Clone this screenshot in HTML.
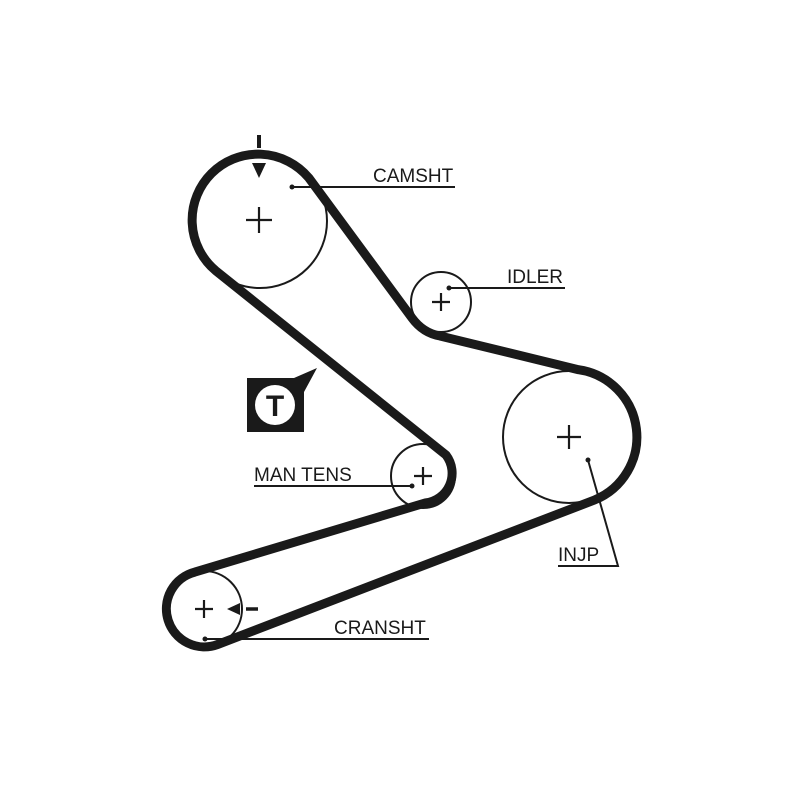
<!DOCTYPE html>
<html><head><style>html,body{margin:0;padding:0;background:#fff}svg{display:block}</style></head>
<body>
<svg width="800" height="800" viewBox="0 0 800 800" xmlns="http://www.w3.org/2000/svg">
<rect width="800" height="800" fill="#fff"/>
<g fill="none" stroke="#1a1a1a" stroke-width="2">
<circle cx="260" cy="221" r="67"/>
<circle cx="441" cy="302" r="30"/>
<circle cx="569" cy="437" r="66"/>
<circle cx="423" cy="476" r="32"/>
<circle cx="204" cy="609" r="38"/>
</g>
<path d="M308.6 177.6 L412 318 Q423 333 440 336 L578.5 369.7 A68 68 0 0 1 594.5 500 L217.6 644.5 A38 38 0 1 1 194.8 572.1 L425 503 A30 30 0 0 0 446 455 L215.6 270.6 A66 66 0 1 1 308.6 177.6 Z" fill="none" stroke="#1a1a1a" stroke-width="9" stroke-linejoin="round"/>
<g stroke="#1a1a1a" stroke-width="2.2">
<line x1="246" y1="220" x2="272" y2="220"/><line x1="259" y1="207" x2="259" y2="233"/>
<line x1="432" y1="302" x2="450" y2="302"/><line x1="441" y1="293" x2="441" y2="311"/>
<line x1="557" y1="437" x2="581" y2="437"/><line x1="569" y1="425" x2="569" y2="449"/>
<line x1="414" y1="476" x2="432" y2="476"/><line x1="423" y1="467" x2="423" y2="485"/>
<line x1="195" y1="609" x2="213" y2="609"/><line x1="204" y1="600" x2="204" y2="618"/>
</g>
<line x1="259" y1="135" x2="259" y2="148" stroke="#1a1a1a" stroke-width="4"/>
<polygon points="252,163 266,163 259,178" fill="#1a1a1a"/>
<polygon points="227,609 240,603 240,615" fill="#1a1a1a"/>
<line x1="246" y1="609" x2="258" y2="609" stroke="#1a1a1a" stroke-width="3.5"/>
<g stroke="#1a1a1a" stroke-width="2" fill="none">
<line x1="292" y1="187" x2="455" y2="187"/>
<line x1="449" y1="288" x2="565" y2="288"/>
<polyline points="588,460 618,566 558,566"/>
<line x1="254" y1="486" x2="412" y2="486"/>
<line x1="205" y1="639" x2="429" y2="639"/>
</g>
<g fill="#1a1a1a"><circle cx="292" cy="187" r="2.5"/><circle cx="449" cy="288" r="2.5"/><circle cx="588" cy="460" r="2.5"/><circle cx="412" cy="486" r="2.5"/><circle cx="205" cy="639" r="2.5"/></g>
<g font-family="Liberation Sans, sans-serif" font-size="19" fill="#1a1a1a">
<text x="373" y="182">CAMSHT</text>
<text x="507" y="283">IDLER</text>
<text x="558" y="561">INJP</text>
<text x="254" y="481">MAN TENS</text>
<text x="334" y="634">CRANSHT</text>
</g>
<path d="M247 378 L294 378 L317 368 L304 392 L304 432 L247 432 Z" fill="#1a1a1a"/>
<circle cx="275" cy="405" r="20" fill="#fff"/>
<text x="275" y="416" text-anchor="middle" font-family="Liberation Sans, sans-serif" font-weight="bold" font-size="30" fill="#1a1a1a">T</text>
</svg>
</body></html>
